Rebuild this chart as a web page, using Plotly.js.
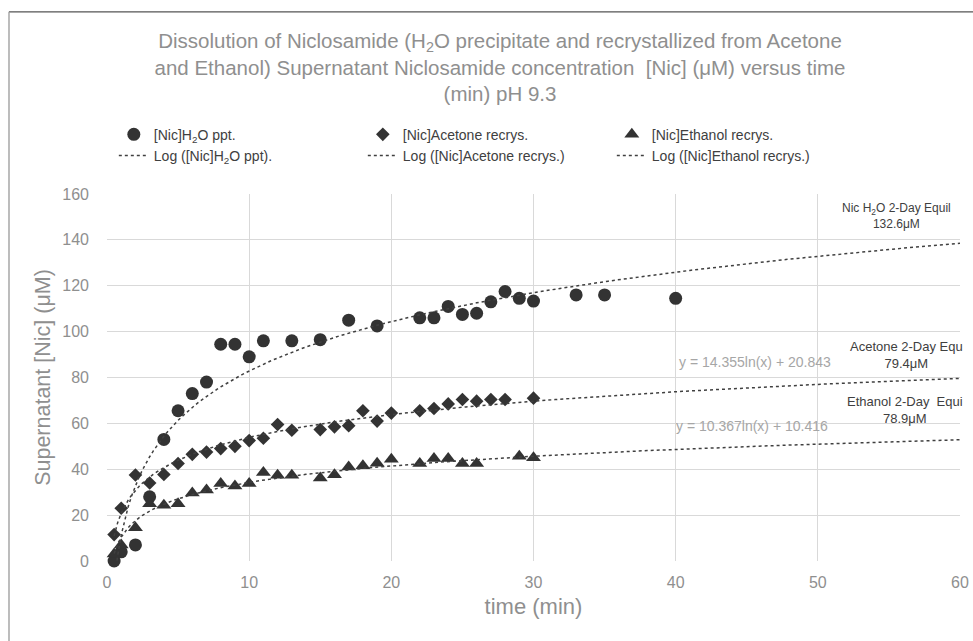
<!DOCTYPE html>
<html>
<head>
<meta charset="utf-8">
<script src="https://cdn.plot.ly/plotly-3.0.1.min.js"></script>
<style>html,body{margin:0;padding:0;background:#fff;}#chart{width:973px;height:641px;}</style>
</head>
<body>
<div id="chart"></div>
<script>
// ---- data ----
const timeH2O = [0.5, 1, 2, 3, 4, 5, 6, 7, 8, 9, 10, 11, 13, 15, 17, 19, 22, 23, 24, 25, 26, 27, 28, 29, 30, 33, 35, 40];
const nicH2O  = [0, 4, 7, 28, 53, 65.5, 73, 78, 94.5, 94.5, 89, 96, 96, 96.5, 105, 102.5, 106, 106, 111, 107.5, 108, 113, 117.5, 114.5, 113.3, 116, 116, 114.5];

const timeAcetone = [0.5, 1, 2, 3, 4, 5, 6, 7, 8, 9, 10, 11, 12, 13, 15, 16, 17, 18, 19, 20, 22, 23, 24, 25, 26, 27, 28, 30];
const nicAcetone  = [11.5, 23, 37.5, 34, 37.7, 42.5, 46.5, 47.5, 49, 50, 52.5, 53.5, 59.5, 57, 57.3, 58.5, 59, 65.5, 61, 64.5, 65.5, 66.5, 68.5, 70.4, 69.7, 70.4, 70.4, 71];

const timeEthanol = [0.5, 1, 2, 3, 4, 5, 6, 7, 8, 9, 10, 11, 12, 13, 15, 16, 17, 18, 19, 20, 22, 23, 24, 25, 26, 29, 30];
const nicEthanol  = [3, 7, 14.5, 25, 24.3, 25, 29.7, 31, 33.8, 32.7, 33.8, 38.6, 37.4, 37.4, 36.2, 37.6, 41, 41.5, 42.6, 44.4, 42.5, 44.7, 44.7, 42.5, 42.5, 45.7, 45];

// log trendline coefficients shown on the chart: y = a ln(x) + b
const acetoneTrend = [14.355, 20.843];
const ethanolTrend = [10.367, 10.416];

const seriesNames = ['[Nic]H<sub>2</sub>O ppt.', '[Nic]Acetone recrys.', '[Nic]Ethanol recrys.'];
const trendNames  = ['Log ([Nic]H<sub>2</sub>O ppt).', 'Log ([Nic]Acetone recrys.)', 'Log ([Nic]Ethanol recrys.)'];
const equilLabels = ['Nic H<sub>2</sub>O 2-Day Equil<br>132.6\u03bcM', 'Acetone 2-Day Equ<br>79.4\u03bcM', 'Ethanol 2-Day\u00a0 Equi<br>78.9\u03bcM'];
const xTicks = [0, 10, 20, 30, 40, 50, 60];
const yTicks = [0, 20, 40, 60, 80, 100, 120, 140, 160];

// least-squares log fit (Excel logarithmic trendline) for the H2O series
function logFit(xs, ys) {
  const lx = xs.map(Math.log);
  const n = xs.length;
  const mx = lx.reduce((s, v) => s + v, 0) / n;
  const my = ys.reduce((s, v) => s + v, 0) / n;
  let sxy = 0, sxx = 0;
  for (let i = 0; i < n; i++) { sxy += (lx[i] - mx) * (ys[i] - my); sxx += (lx[i] - mx) ** 2; }
  const a = sxy / sxx;
  return [a, my - a * mx];
}
const h2oTrend = logFit(timeH2O, nicH2O);

function trendCurve(coef, x0, x1) {
  const xs = [], ys = [];
  for (let x = x0; x <= x1 + 1e-9; x += 0.25) { xs.push(x); ys.push(coef[0] * Math.log(x) + coef[1]); }
  return {xs, ys};
}
const tr1 = trendCurve(h2oTrend, 0.5, 60);
const tr2 = trendCurve(acetoneTrend, 0.5, 60);
const tr3 = trendCurve(ethanolTrend, 0.5, 60);

const FONT = '"Liberation Sans", Arial, sans-serif';
const mk = '#333333';
const lineCol = '#404040';
const grey = '#8f8f8f';

const traces = [
  {x: timeH2O, y: nicH2O, mode: 'markers', type: 'scatter', name: seriesNames[0], marker: {symbol: 'circle', size: 13, color: mk}, cliponaxis: false},
  {x: timeAcetone, y: nicAcetone, mode: 'markers', type: 'scatter', name: seriesNames[1], marker: {symbol: 'diamond', size: 10.5, color: mk}, cliponaxis: false},
  {x: timeEthanol, y: nicEthanol, mode: 'markers', type: 'scatter', name: seriesNames[2], marker: {symbol: 'triangle-up', size: 13, color: mk}, cliponaxis: false},
  {x: tr1.xs, y: tr1.ys, mode: 'lines', type: 'scatter', name: trendNames[0], line: {dash: 'dot', width: 1.5, color: lineCol}},
  {x: tr2.xs, y: tr2.ys, mode: 'lines', type: 'scatter', name: trendNames[1], line: {dash: 'dot', width: 1.5, color: lineCol}},
  {x: tr3.xs, y: tr3.ys, mode: 'lines', type: 'scatter', name: trendNames[2], line: {dash: 'dot', width: 1.5, color: lineCol}}
];

const eqText = c => 'y = ' + c[0].toFixed(3) + 'ln(x) + ' + c[1].toFixed(3);
const px = v => (v - 107) / 853;   // pixel -> paper x helper for decorations

const layout = {
  width: 973, height: 641,
  margin: {l: 107, r: 13, t: 194, b: 80, pad: 0},
  paper_bgcolor: '#ffffff', plot_bgcolor: '#ffffff',
  font: {family: FONT, color: '#404040'},
  title: {
    text: 'Dissolution of Niclosamide (H<sub>2</sub>O precipitate and recrystallized from Acetone<br>and Ethanol) Supernatant Niclosamide concentration\u00a0 [Nic] (\u03bcM) versus time<br>(min) pH 9.3',
    x: 500 / 973, xanchor: 'center', xref: 'container',
    y: 1 - 48 / 641, yanchor: 'top', yref: 'container',
    font: {family: FONT, size: 20.5, color: grey}
  },
  showlegend: true,
  legend: {
    orientation: 'h', x: 0.008, xanchor: 'left', y: 1.205, yanchor: 'top',
    entrywidth: 204, entrywidthmode: 'pixels',
    font: {family: FONT, size: 14, color: '#404040'},
    bgcolor: 'rgba(0,0,0,0)', traceorder: 'normal'
  },
  xaxis: {
    range: [0, 60], tickvals: xTicks, ticktext: xTicks.map(String),
    showgrid: true, gridcolor: '#d9d9d9', gridwidth: 1,
    zeroline: false, showline: false, ticks: '', ticklabelstandoff: 10,
    tickfont: {family: FONT, size: 16, color: grey},
    title: {text: 'time (min)', font: {family: FONT, size: 22, color: grey}, standoff: 8},
    fixedrange: true
  },
  yaxis: {
    range: [0, 160], tickvals: yTicks, ticktext: yTicks.map(String),
    showgrid: true, gridcolor: '#d9d9d9', gridwidth: 1,
    zeroline: false, showline: false, ticks: '', ticklabelstandoff: 17,
    tickfont: {family: FONT, size: 16, color: grey},
    title: {text: 'Supernatant [Nic] (\u03bcM)', font: {family: FONT, size: 21.5, color: grey}, standoff: 5},
    fixedrange: true
  },
  annotations: [
    {x: 55.5, y: 150.2, xref: 'x', yref: 'y', text: equilLabels[0], showarrow: false, font: {family: FONT, size: 12, color: '#404040'}, align: 'center'},
    {x: px(965), y: 89.7, xref: 'paper', yref: 'y', xanchor: 'right', text: equilLabels[1], showarrow: false, font: {family: FONT, size: 13, color: '#404040'}, align: 'center'},
    {x: px(965), y: 65.7, xref: 'paper', yref: 'y', xanchor: 'right', text: equilLabels[2], showarrow: false, font: {family: FONT, size: 13, color: '#404040'}, align: 'center'},
    {x: 45.6, y: 86.8, xref: 'x', yref: 'y', text: eqText(acetoneTrend), showarrow: false, font: {family: FONT, size: 14, color: '#a6a6a6'}},
    {x: 45.4, y: 58.9, xref: 'x', yref: 'y', text: eqText(ethanolTrend), showarrow: false, font: {family: FONT, size: 14, color: '#a6a6a6'}}
  ],
  shapes: [
    {type: 'line', xref: 'paper', yref: 'paper', x0: px(9), x1: px(973), y0: 1 + (194 - 12) / 366.7, y1: 1 + (194 - 12) / 366.7, line: {color: '#555555', width: 1.3}},
    {type: 'line', xref: 'paper', yref: 'paper', x0: px(9), x1: px(9), y0: 1 + (194 - 12) / 366.7, y1: (560.7 - 641) / 366.7, line: {color: '#999999', width: 1.3}}
  ]
};

Plotly.newPlot('chart', traces, layout, {displayModeBar: false, staticPlot: true});
</script>
</body>
</html>
